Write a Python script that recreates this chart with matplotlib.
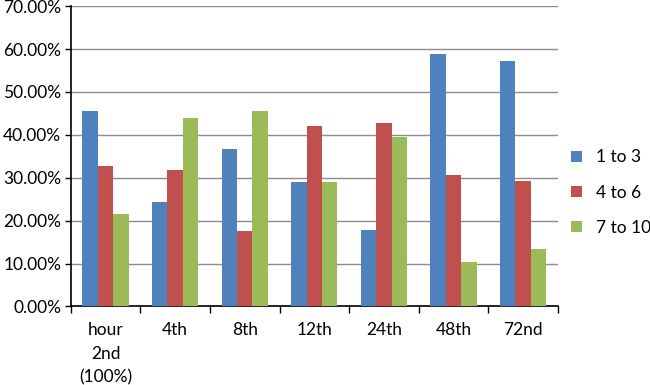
import matplotlib
matplotlib.use("Agg")
import matplotlib.pyplot as plt
import numpy as np
from matplotlib.ticker import FixedLocator, FuncFormatter

categories = ["hour\n2nd\n(100%)", "4th", "8th", "12th", "24th", "48th", "72nd"]
series_names = ["1 to 3", "4 to 6", "7 to 10"]
s1 = [45.6, 24.4, 36.6, 28.9, 17.8, 58.9, 57.2]
s2 = [32.7, 31.7, 17.7, 42.1, 42.7, 30.6, 29.3]
s3 = [21.6, 43.9, 45.6, 28.9, 39.4, 10.4, 13.4]
colors = ["#4F81BD", "#C0504D", "#9BBB59"]

plt.rcParams['font.family'] = ['Lato', 'DejaVu Sans']
fig = plt.figure(figsize=(6.5, 3.85), dpi=100)
ax = fig.add_axes([0.109, 0.204, 0.749, 0.78])

x = np.arange(len(categories))
w = 0.222
for i, (vals, name, c) in enumerate(zip([s1, s2, s3], series_names, colors)):
    ax.bar(x + (i - 1) * w, vals, width=w, color=c, label=name, zorder=3)

ax.set_xlim(-0.5, len(categories) - 0.5)
ax.set_ylim(0, 70)
ax.set_yticks(np.arange(0, 71, 10))
ax.yaxis.set_major_formatter(FuncFormatter(lambda v, p: f"{v:.2f}%"))
ax.yaxis.grid(True, color="#8c8c8c", linewidth=1.0, zorder=0)
ax.set_axisbelow(True)

ax.xaxis.set_major_locator(FixedLocator(np.arange(-0.5, len(categories), 1.0)))
ax.xaxis.set_major_formatter(FuncFormatter(lambda v, p: ""))
ax.xaxis.set_minor_locator(FixedLocator(x))
ax.set_xticklabels(categories, minor=True, linespacing=1.6)
ax.tick_params(axis="x", which="major", length=5, width=1, direction="out", color="black")
ax.tick_params(axis="x", which="minor", length=0, pad=11, labelsize=12.5)
ax.tick_params(axis="y", length=4, width=1, direction="out", labelsize=12.5, pad=3)

for s in ["top", "right"]:
    ax.spines[s].set_visible(False)
ax.spines["left"].set_color("black")
ax.spines["bottom"].set_color("black")
ax.spines["left"].set_linewidth(1.2)
ax.spines["bottom"].set_linewidth(1.2)

fig.legend(loc="center left", bbox_to_anchor=(0.878, 0.5), frameon=False,
           fontsize=12.5, handlelength=0.65, handleheight=0.65, labelspacing=1.1,
           handletextpad=0.8, borderpad=0, borderaxespad=0)

fig.savefig("out.png", dpi=100)
